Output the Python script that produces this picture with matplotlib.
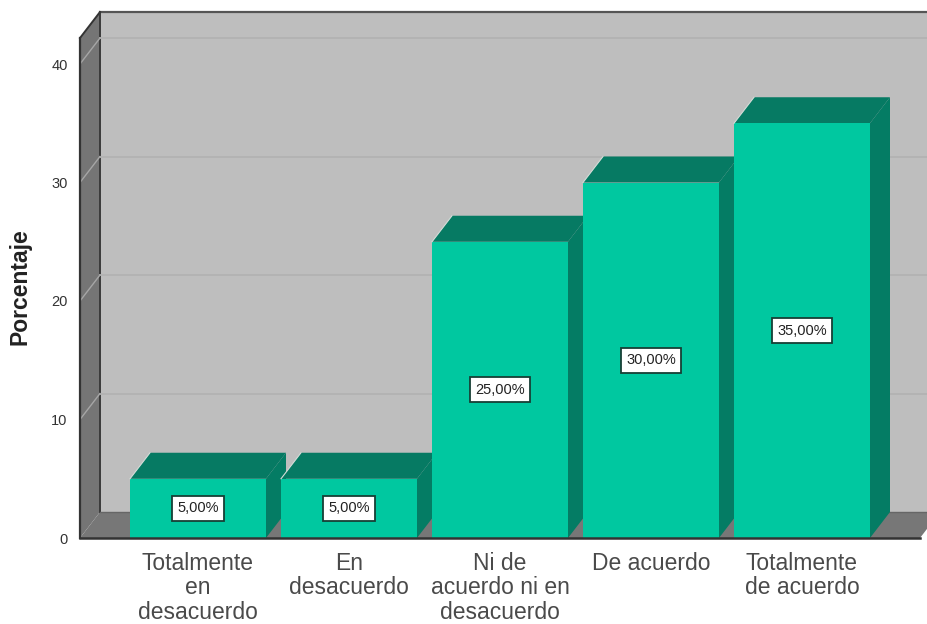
import matplotlib
matplotlib.use("Agg")
import matplotlib.pyplot as plt
from matplotlib.patches import Polygon

categories = ["Totalmente\nen\ndesacuerdo", "En\ndesacuerdo", "Ni de\nacuerdo ni en\ndesacuerdo", "De acuerdo", "Totalmente\nde acuerdo"]
values = [5, 5, 25, 30, 35]
labels = ["5,00%", "5,00%", "25,00%", "30,00%", "35,00%"]
y_ticks = [0, 10, 20, 30, 40]

plt.rcParams["font.family"] = ["Liberation Sans", "DejaVu Sans"]

W, H = 928, 624
fig = plt.figure(figsize=(W / 100, H / 100), dpi=100, facecolor="white")
# front plane of the 3d box, in pixels
left, right, bottom, top = 80, 920, 538, 38
ax = fig.add_axes([left / W, 1 - bottom / H, (right - left) / W, (bottom - top) / H])
ax.set_xlim((left - 198) / 151, (right - 198) / 151)
ax.set_ylim(0, (bottom - top) / 11.85)
x0, x1 = ax.get_xlim()
y0, y1 = ax.get_ylim()
dx = 20 / 151
dy = 26 / 11.85
half = 68 / 151


def poly(points, color, edge="none", lw=0, zorder=1):
    ax.add_patch(Polygon(points, closed=True, facecolor=color, edgecolor=edge,
                         linewidth=lw, clip_on=False, zorder=zorder))


# walls and floor
poly([(x0 + dx, y0 + dy), (x1 + dx, y0 + dy), (x1 + dx, y1 + dy), (x0 + dx, y1 + dy)], "#bebebe")
poly([(x0, y0), (x0 + dx, y0 + dy), (x0 + dx, y1 + dy), (x0, y1)], "#757575")
poly([(x0, y0), (x1, y0), (x1 + dx, y0 + dy), (x0 + dx, y0 + dy)], "#777777")

ax.plot([x0 + dx, x1 + dx], [y1 + dy, y1 + dy], color="#555555", lw=1.6, clip_on=False, zorder=2)
ax.plot([x0, x0 + dx], [y1, y1 + dy], color="#333333", lw=1.4, clip_on=False, zorder=2)
ax.plot([x0 + dx, x0 + dx], [y0 + dy, y1 + dy], color="#3a3a3a", lw=1.4, clip_on=False, zorder=2)
ax.plot([x0 + dx, x1 + dx], [y0 + dy, y0 + dy], color="#666666", lw=1.0, clip_on=False, zorder=2)

for t in y_ticks[1:]:
    ax.plot([x0 + dx, x1 + dx], [t + dy, t + dy], color="#b2b2b2", lw=1.3, clip_on=False, zorder=2)
    ax.plot([x0, x0 + dx], [t, t + dy], color="#a6a6a6", lw=1.0, clip_on=False, zorder=2)

# bars
for i, v in enumerate(values):
    a, b = i - half, i + half
    poly([(b, 0), (b + dx, dy), (b + dx, v + dy), (b, v)], "#047c64", zorder=3)
    poly([(a, v), (b, v), (b + dx, v + dy), (a + dx, v + dy)], "#067a63", zorder=3)
    poly([(a, 0), (b, 0), (b, v), (a, v)], "#00c8a0", zorder=3)
    ax.plot([a, a + dx], [v, v + dy], color="#d5dcd8", lw=0.8, clip_on=False, zorder=3)
    ax.text(i, v / 2, labels[i], ha="center", va="center", fontsize=10.5, color="#222222", zorder=5,
            bbox=dict(boxstyle="square,pad=0.38", facecolor="white", edgecolor="#173f35", linewidth=1.3))

ax.plot([x0, x1], [y0, y0], color="#333333", lw=1.8, clip_on=False, zorder=4)
ax.plot([x0, x0], [y0, y1], color="#333333", lw=1.6, clip_on=False, zorder=2)

ax.set_xticks(range(len(categories)))
ax.set_xticklabels(categories, fontsize=16.5, color="#4a4a4a", linespacing=1.08)
ax.set_yticks(y_ticks)
ax.set_yticklabels([str(t) for t in y_ticks], fontsize=10.5, color="#333333")
ax.tick_params(axis="x", length=0, pad=10)
ax.tick_params(axis="y", length=0, pad=9)
for s in ax.spines.values():
    s.set_visible(False)
ax.patch.set_visible(False)

fig.text(20 / W, 1 - 287 / H, "Porcentaje", rotation=90, ha="center", va="center",
         fontsize=16.5, fontweight="bold", color="#222222")

fig.savefig("out.png", dpi=100)
